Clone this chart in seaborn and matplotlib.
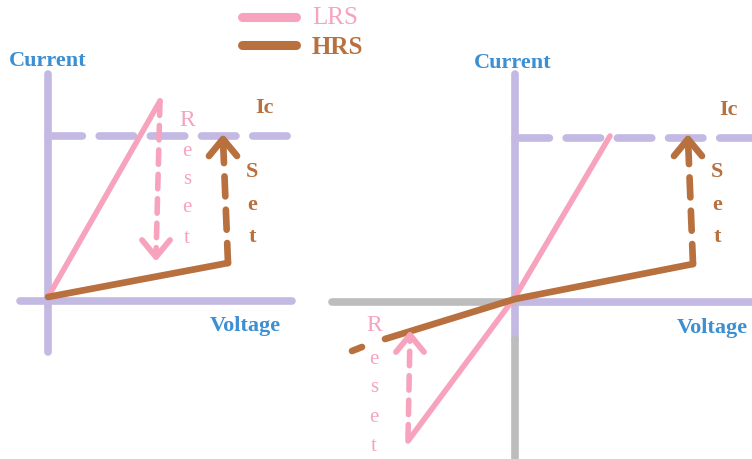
import numpy as np
import pandas as pd
import matplotlib
matplotlib.use("Agg")
import matplotlib.pyplot as plt
import seaborn as sns

# schematic coordinates (image pixels, y grows downwards)
left_vaxis_x = [48, 48]
left_vaxis_y = [75, 353]
left_haxis_x = [20, 292]
left_haxis_y = [302, 302]
left_ic_x = [48, 292]
left_ic_y = [137, 137]
left_lrs_x = [48, 160]
left_lrs_y = [298, 102]
left_hrs_x = [48, 228]
left_hrs_y = [298, 264]
left_reset_x = [160, 156]
left_reset_y = [102, 258]
left_set_x = [228, 223]
left_set_y = [264, 140]

right_vaxis_x = [515, 515]
right_vaxis_y = [75, 340]
right_vaxis_neg_y = [340, 460]
right_haxis_pos_x = [515, 752]
right_haxis_neg_x = [332, 515]
right_haxis_y = [303, 303]
right_ic_x = [515, 752]
right_ic_y = [139, 139]
right_lrs_x = [408, 515, 610]
right_lrs_y = [442, 298, 137]
right_hrs_x = [385, 515, 693]
right_hrs_y = [340, 300, 265]
right_hrs_tail_x = [352, 362]
right_hrs_tail_y = [352, 348]
right_reset_x = [408, 410]
right_reset_y = [440, 336]
right_set_x = [693, 688]
right_set_y = [265, 140]

PINK = "#f7a3be"
BROWN = "#b8703f"
PURPLE = "#c3b9e2"
GREY = "#bdbdbd"
BLUE = "#3b8fd2"

sns.set_theme(style="white")
plt.rcParams["font.family"] = ["Liberation Serif", "DejaVu Serif"]

fig = plt.figure(figsize=(7.52, 4.6), dpi=100)
ax = fig.add_axes([0, 0, 1, 1])
ax.set_xlim(0, 752)
ax.set_ylim(460, 0)
ax.axis("off")


def seg(x, y, color, lw, dashed=False, z=2):
    df = pd.DataFrame({"x": x, "y": y})
    sns.lineplot(data=df, x="x", y="y", sort=False, color=color, lw=lw,
                 ax=ax, zorder=z, estimator=None)
    ln = ax.lines[-1]
    ln.set_solid_capstyle("round")
    ln.set_dash_capstyle("round")
    ln.set_solid_joinstyle("round")
    if dashed:
        ln.set_dashes(dashed)


def chevron(x, y, color, lw, up=True, size=17, width=14):
    tip_x, tip_y = x[-1], y[-1]
    dy = size if up else -size
    seg([tip_x - width, tip_x, tip_x + width],
        [tip_y + dy, tip_y, tip_y + dy], color, lw, z=4)


# axes
seg(left_vaxis_x, left_vaxis_y, PURPLE, 5.5)
seg(left_haxis_x, left_haxis_y, PURPLE, 5.5)
seg(right_vaxis_x, right_vaxis_y, PURPLE, 5.5)
seg(right_vaxis_x, right_vaxis_neg_y, GREY, 5.5)
seg(right_haxis_pos_x, right_haxis_y, PURPLE, 5.5)
seg(right_haxis_neg_x, right_haxis_y, GREY, 5.5)

# Ic dashed levels
seg(left_ic_x, left_ic_y, PURPLE, 5.5, dashed=(4.5, 2.2))
seg(right_ic_x, right_ic_y, PURPLE, 5.5, dashed=(4.5, 2.2))

# LRS / HRS curves
seg(left_lrs_x, left_lrs_y, PINK, 4, z=3)
seg(left_hrs_x, left_hrs_y, BROWN, 4.8, z=3)
seg(right_lrs_x, right_lrs_y, PINK, 4, z=3)
seg(right_hrs_x, right_hrs_y, BROWN, 4.8, z=3)
seg(right_hrs_tail_x, right_hrs_tail_y, BROWN, 4.8, z=3)

# switching arrows
seg(left_reset_x, left_reset_y, PINK, 4, dashed=(2.6, 1.8), z=3)
chevron(left_reset_x, left_reset_y, PINK, 4.2, up=False)
seg(left_set_x, left_set_y, BROWN, 4.8, dashed=(3, 2), z=3)
chevron(left_set_x, left_set_y, BROWN, 4.8)
seg(right_reset_x, right_reset_y, PINK, 4, dashed=(2.6, 1.8), z=3)
chevron(right_reset_x, right_reset_y, PINK, 4.2)
seg(right_set_x, right_set_y, BROWN, 4.8, dashed=(3, 2), z=3)
chevron(right_set_x, right_set_y, BROWN, 4.8)

# legend
seg([242, 296], [18, 18], PINK, 6.5)
seg([242, 296], [46, 46], BROWN, 6.5)
ax.text(312, 18, "LRS", color=PINK, fontsize=18, va="center")
ax.text(312, 47, "HRS", color=BROWN, fontsize=18, va="center", fontweight="bold")

# axis labels
lab = dict(color=BLUE, fontsize=16, fontweight="bold", va="center", ha="center")
ax.text(48, 61, "Current", **lab)
ax.text(245, 326, "Voltage", **lab)
ax.text(513, 63, "Current", **lab)
ax.text(712, 328, "Voltage", **lab)
ax.text(264, 108, "Ic", color=BROWN, fontsize=16, fontweight="bold", va="center", ha="center")
ax.text(728, 110, "Ic", color=BROWN, fontsize=16, fontweight="bold", va="center", ha="center")

# vertical letters
reset_letters = ["R", "e", "s", "e", "t"]
set_letters = ["S", "e", "t"]
for ch, yy in zip(reset_letters, [120, 152, 180, 208, 239]):
    ax.text(187, yy, ch, color=PINK, fontsize=17 if ch == "R" else 15, va="center", ha="center")
for ch, yy in zip(reset_letters, [326, 360, 388, 418, 447]):
    ax.text(374, yy, ch, color=PINK, fontsize=17 if ch == "R" else 15, va="center", ha="center")
for ch, yy in zip(set_letters, [172, 205, 237]):
    ax.text(252, yy, ch, color=BROWN, fontsize=16, fontweight="bold", va="center", ha="center")
    ax.text(717, yy, ch, color=BROWN, fontsize=16, fontweight="bold", va="center", ha="center")

fig.savefig("out.png", dpi=100)
